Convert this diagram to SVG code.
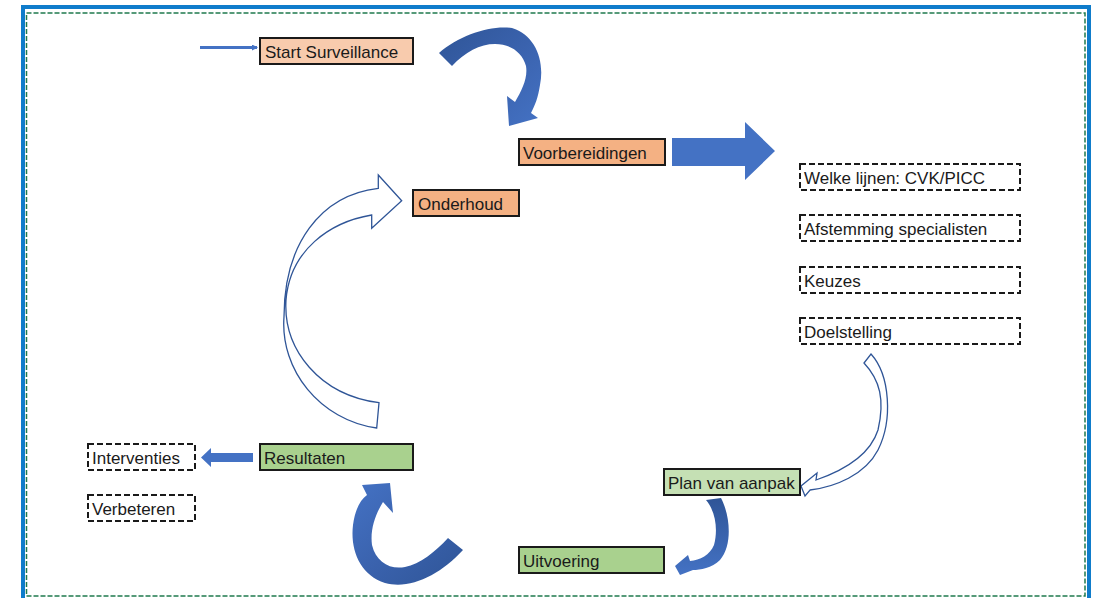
<svg xmlns="http://www.w3.org/2000/svg" width="1094" height="598" viewBox="0 0 1094 598">
<defs>
<style>
.t{font-family:"Liberation Sans",Arial,sans-serif;font-size:17px;fill:#1a1a1a}
.box{stroke:#1a1a1a;stroke-width:2}
.dash{fill:#fff;stroke:#1a1a1a;stroke-width:2;stroke-dasharray:6 3}
.peach{fill:#f8cbad}
.orange{fill:#f4b183}
.green{fill:#a9d18e}
.lgreen{fill:#c5e0b4}
.hollow{fill:#fff;stroke:#2f5597;stroke-width:1.3}
.solid{fill:#4472c4}
</style>
<linearGradient id="gTop" x1="0" y1="0" x2="1" y2="1">
<stop offset="0" stop-color="#2f5597"/><stop offset="0.5" stop-color="#3a62ad"/><stop offset="1" stop-color="#4472c4"/>
</linearGradient>
<linearGradient id="gPlan" x1="0" y1="0" x2="0" y2="1">
<stop offset="0" stop-color="#2f5597"/><stop offset="1" stop-color="#4472c4"/>
</linearGradient>
<linearGradient id="gRes" x1="1" y1="1" x2="0" y2="0">
<stop offset="0" stop-color="#2f5597"/><stop offset="0.5" stop-color="#3a62ad"/><stop offset="1" stop-color="#4472c4"/>
</linearGradient>
<marker id="ah" markerWidth="6" markerHeight="6" refX="5" refY="3" orient="auto" markerUnits="userSpaceOnUse">
<path d="M0,0 L6,3 L0,6 Z" fill="#4472c4"/>
</marker>
</defs>
<rect width="1094" height="598" fill="#fff"/>
<g id="frame">
<rect x="23" y="7" width="1066" height="600" fill="none" stroke="#0f7ccb" stroke-width="4"/>
<rect x="26.5" y="13" width="1058.5" height="583" fill="none" stroke="#1f7a4d" stroke-width="1.5" stroke-dasharray="5 2"/>
</g>
<g id="connectors">
<line x1="200" y1="47.5" x2="257" y2="47.5" stroke="#4472c4" stroke-width="3" marker-end="url(#ah)"/>
<path d="M 439,53 C 460,35 490,25 512,28 C 535,35 545,60 540,85 C 538,98 535,105 531,113 L 538,118 L 509,126 L 507,96 L 515,102 C 522,90 528,78 526,66 C 522,52 510,44 495,44 C 480,44 465,52 452,66 Z" fill="url(#gTop)"/>
<path d="M 672,138 L 745,138 L 745,122 L 775,151 L 745,180 L 745,166 L 672,166 Z" class="solid"/>
<path d="M 378.3,188.3 L 378.3,175 L 401.7,200.7 L 371.7,228.3 L 371.7,215 C 330,222 290,250 286,300 C 283,350 320,395 379,402.7 L 376.7,428 C 320,420 280,370 284,316.7 C 284,245 320,195 378.3,188.3 Z" class="hollow"/>
<path d="M 871,354 C 890,375 893,420 878,450 C 865,475 835,487 810,490 L 805,496 L 801,486 L 817,473 L 816,480 C 845,470 870,455 878,430 C 885,400 880,380 864,363 Z" class="hollow"/>
<path d="M 706,500 L 721,498 C 730,515 733,545 720,560 C 712,568 700,570 693,570 L 680,575 L 675,566 L 688,555 L 690,561 C 700,560 710,555 714,545 C 718,530 716,512 706,500 Z" fill="url(#gPlan)"/>
<path d="M 463,550 C 440,575 410,590 385,583 C 360,575 350,550 353,525 C 355,510 360,500 367,495 L 362,485 L 390,483 L 393,513 L 383,502 C 375,515 370,530 372,545 C 376,562 390,570 405,567 C 420,564 435,552 448,538 Z" fill="url(#gRes)"/>
<path d="M 253,453 L 211,453 L 211,448 L 201,457.5 L 211,467 L 211,462 L 253,462 Z" class="solid"/>
</g>
<g id="start"><rect x="260" y="38" width="153" height="26" class="box peach"/><text x="265" y="58" class="t">Start Surveillance</text></g>
<g id="voorbereidingen"><rect x="519" y="139" width="146" height="26" class="box orange"/><text x="523" y="159" class="t">Voorbereidingen</text></g>
<g id="onderhoud"><rect x="413" y="190" width="106" height="26" class="box orange"/><text x="418" y="210" class="t">Onderhoud</text></g>
<g id="welke"><rect x="800" y="164" width="220" height="26" class="dash"/><text x="804" y="184" class="t">Welke lijnen: CVK/PICC</text></g>
<g id="afstemming"><rect x="800" y="215" width="220" height="26" class="dash"/><text x="804" y="235" class="t">Afstemming specialisten</text></g>
<g id="keuzes"><rect x="800" y="267" width="220" height="26" class="dash"/><text x="804" y="287" class="t">Keuzes</text></g>
<g id="doelstelling"><rect x="800" y="318" width="220" height="26" class="dash"/><text x="804" y="338" class="t">Doelstelling</text></g>
<g id="plan"><rect x="664" y="469" width="136" height="26" class="box lgreen"/><text x="668" y="489" class="t">Plan van aanpak</text></g>
<g id="uitvoering"><rect x="519" y="547" width="145" height="26" class="box green"/><text x="523" y="567" class="t">Uitvoering</text></g>
<g id="resultaten"><rect x="260" y="444" width="153" height="26" class="box green"/><text x="264" y="464" class="t">Resultaten</text></g>
<g id="interventies"><rect x="88" y="444" width="107" height="26" class="dash"/><text x="92" y="464" class="t">Interventies</text></g>
<g id="verbeteren"><rect x="88" y="495" width="107" height="26" class="dash"/><text x="92" y="515" class="t">Verbeteren</text></g>
</svg>
